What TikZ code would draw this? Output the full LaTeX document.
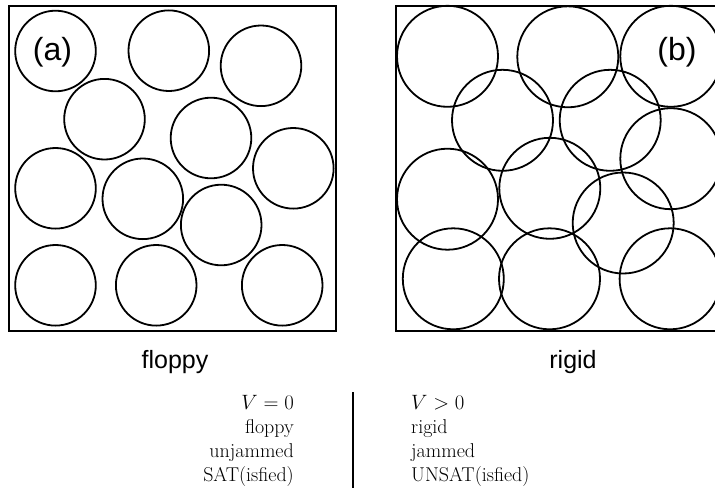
\documentclass[tikz,border=0pt]{standalone}
\usepackage{fontspec}
\newfontfamily\helv{Liberation Sans}
\tikzset{
  disk/.style={line width=1.8pt},
  frame/.style={line width=2.6pt},
  panellabel/.style={font=\helv\fontsize{32}{36}\selectfont, inner sep=0pt},
  statelabel/.style={font=\helv\fontsize{25}{30}\selectfont, inner sep=0pt, anchor=base},
  lefttext/.style={font=\fontsize{20}{24}\selectfont, inner sep=0pt, anchor=base east},
  righttext/.style={font=\fontsize{20}{24}\selectfont, inner sep=0pt, anchor=base west},
  divider/.style={line width=1.2pt}
}
\begin{document}
\begin{tikzpicture}[x=1pt,y=-1pt]
\useasboundingbox (0,0) rectangle (715,490);
\clip (0,0) rectangle (715,490);
% panel (a)
\draw[frame] (9,6) rectangle (336,331);
\foreach \cx/\cy in {55.5/51, 168.8/50.7, 261/65.8, 104.5/119.2, 211/138, 293.3/168.3,
  55.5/188.3, 142.8/198.8, 221.2/225, 55.5/285.3, 156.2/285.3, 282.2/285.3}
  \draw[disk] (\cx,\cy) circle[radius=40.3];
\node[panellabel] (la) at (52.5,52) {(a)};
% panel (b)
\draw[frame] (396,6) rectangle (723,331);
\foreach \cx/\cy in {447.5/56.3, 567.8/56.8, 670.8/56.3, 502.5/120.3, 610.2/120.3, 670.8/158.7,
  447.5/199.2, 549.8/188.3, 623.2/223, 453.3/278.8, 549.5/278.8, 670.1/278.8}
  \draw[disk] (\cx,\cy) circle[radius=50.5];
\node[panellabel] (lb) at (677,52.5) {(b)};
% state labels
\node[statelabel] (fl) at (175,368) {floppy};
\node[statelabel] (rg) at (573,368) {rigid};
% table
\node[lefttext] (l1) at (294,409) {$V=0$};
\node[lefttext] (l2) at (294,433) {floppy};
\node[lefttext] (l3) at (294,457) {unjammed};
\node[lefttext] (l4) at (294,481) {SAT(isfied)};
\node[righttext] (r1) at (411,409) {$V>0$};
\node[righttext] (r2) at (411,433) {rigid};
\node[righttext] (r3) at (411,457) {jammed};
\node[righttext] (r4) at (411,481) {UNSAT(isfied)};
\coordinate (dtop) at (353,392);
\coordinate (dbot) at (353,488);
\draw[divider] (dtop) -- (dbot);
\end{tikzpicture}
\end{document}
